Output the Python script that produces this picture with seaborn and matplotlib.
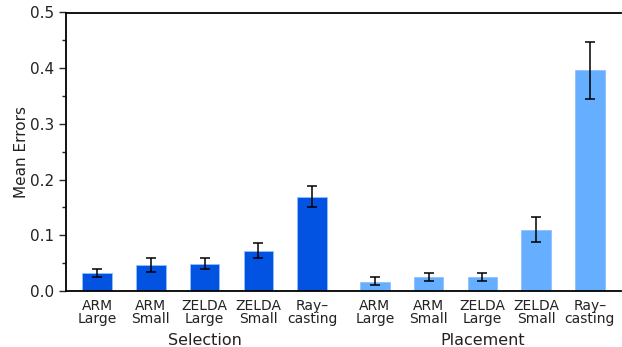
import numpy as np
import pandas as pd
import matplotlib
matplotlib.use("Agg")
import matplotlib.pyplot as plt
import seaborn as sns
from matplotlib.ticker import MultipleLocator

# Conditions and tasks
conditions = ["ARM\nLarge", "ARM\nSmall", "ZELDA\nLarge", "ZELDA\nSmall", "Ray\u2013\ncasting"]
tasks = ["Selection", "Placement"]

# Mean errors per condition
selection_mean = [0.032, 0.047, 0.049, 0.072, 0.168]
placement_mean = [0.017, 0.026, 0.026, 0.109, 0.396]

# Error bar extents (lower, upper)
selection_low = [0.025, 0.035, 0.040, 0.059, 0.150]
selection_high = [0.040, 0.059, 0.059, 0.086, 0.188]
placement_low = [0.011, 0.018, 0.018, 0.088, 0.345]
placement_high = [0.025, 0.032, 0.032, 0.132, 0.447]

colors = {"Selection": "#0353e2", "Placement": "#66aeff"}

group_gap = 0.17
n = len(conditions)
pos = list(np.arange(n)) + list(np.arange(n) + n + group_gap)

df = pd.DataFrame({
    "pos": pos,
    "label": conditions * 2,
    "task": [tasks[0]] * n + [tasks[1]] * n,
    "mean": selection_mean + placement_mean,
    "low": selection_low + placement_low,
    "high": selection_high + placement_high,
})

sns.set_style("ticks")
plt.rcParams["font.family"] = ["DejaVu Sans"]

fig = plt.figure(figsize=(6.22, 3.47), dpi=100)
ax = fig.add_axes([66 / 622, 56 / 347, 555 / 622, 278.5 / 347])

sns.barplot(data=df, x="pos", y="mean", hue="task", palette=colors,
            native_scale=True, dodge=False, width=0.55, errorbar=None,
            saturation=1, edgecolor="#8fc0ff", linewidth=0.6, legend=False, ax=ax)

ax.errorbar(df["pos"], df["mean"],
            yerr=[df["mean"] - df["low"], df["high"] - df["mean"]],
            fmt="none", ecolor="black", elinewidth=1.1, capsize=3.5, capthick=1.1)

ax.set_xlim(-0.58, pos[-1] + 0.58)
ax.set_ylim(0, 0.5)
ax.yaxis.set_major_locator(MultipleLocator(0.1))
ax.yaxis.set_minor_locator(MultipleLocator(0.05))
ax.set_yticklabels([f"{v:.1f}" for v in ax.get_yticks()], fontsize=11, color="#222222")
ax.tick_params(axis="y", which="major", length=5, width=1)
ax.tick_params(axis="y", which="minor", length=3, width=1)

ax.set_xticks(pos)
ax.set_xticklabels(df["label"], fontsize=10, linespacing=0.85, color="#222222")
ax.tick_params(axis="x", length=0, pad=6)
ax.set_xlabel("")
ax.set_ylabel("Mean Errors", fontsize=11, color="#222222", labelpad=1)

for s in ["left", "bottom", "top"]:
    ax.spines[s].set_visible(True)
    ax.spines[s].set_linewidth(1.3)
    ax.spines[s].set_color("black")
ax.spines["right"].set_visible(False)

for i, t in enumerate(tasks):
    center = np.mean(pos[i * n:(i + 1) * n])
    ax.text(center, -0.15, t, transform=ax.get_xaxis_transform(),
            ha="center", va="top", fontsize=11.5, color="#222222")

fig.savefig("out.png", dpi=100)
